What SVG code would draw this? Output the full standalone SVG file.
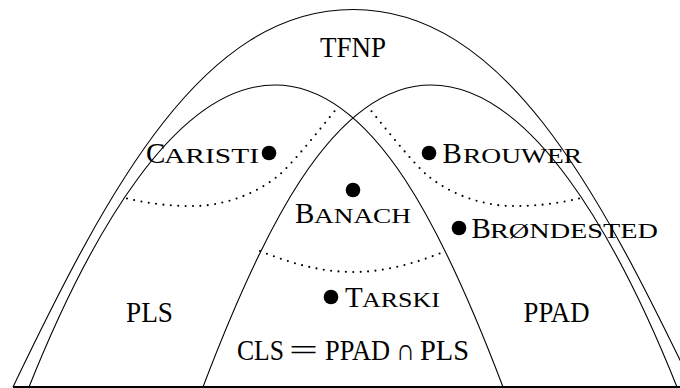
<svg xmlns="http://www.w3.org/2000/svg" width="680" height="388" viewBox="0 0 680 388">
  <style>
    .ln { fill: none; stroke: #000; stroke-width: 1.1; }
    .dt { fill: none; stroke: #000; stroke-width: 2.1; stroke-linecap: round; stroke-dasharray: 0 7.4; }
    .tt { font-family: "Liberation Serif", "DejaVu Serif", serif; font-size: 29px; fill: #000; }
    .op { font-size: 30px; }
    .sc { font-family: "Liberation Serif", "DejaVu Serif", serif; font-size: 29px; fill: #000; }
    .s { font-size: 20.5px; }
  </style>
  <rect width="680" height="388" fill="#fff"/>

  <!-- class TFNP: the outer arch -->
  <g id="tfnp">
    <path class="ln" d="M13,387 C109,187 203,9.5 353,9.5 C503,9.5 597,187 693,387"/>
    <text class="tt" x="353" y="57" text-anchor="middle" textLength="66" lengthAdjust="spacingAndGlyphs">TFNP</text>
  </g>

  <!-- class PLS: left inner arch -->
  <g id="pls">
    <path class="ln" d="M29,387 C89,237 175,85 275,85 C375,85 446,237 503,387"/>
    <text class="tt" x="149.5" y="321.5" text-anchor="middle" textLength="47" lengthAdjust="spacingAndGlyphs">PLS</text>
  </g>

  <!-- class PPAD: right inner arch, mirror of PLS about x=353 -->
  <g id="ppad">
    <path class="ln" d="M29,387 C89,237 175,85 275,85 C375,85 446,237 503,387" transform="translate(706,0) scale(-1,1)"/>
    <text class="tt" x="556.5" y="321.5" text-anchor="middle" textLength="66" lengthAdjust="spacingAndGlyphs">PPAD</text>
  </g>

  <!-- intersection CLS -->
  <g id="cls">
    <text class="tt" y="359.5"><tspan x="237" textLength="47" lengthAdjust="spacingAndGlyphs">CLS</tspan><tspan x="289" textLength="29" lengthAdjust="spacingAndGlyphs">=</tspan><tspan x="325" textLength="65" lengthAdjust="spacingAndGlyphs">PPAD</tspan><tspan class="op" x="396" textLength="19" lengthAdjust="spacingAndGlyphs">∩</tspan><tspan x="420" textLength="49" lengthAdjust="spacingAndGlyphs">PLS</tspan></text>
  </g>

  <!-- dotted sub-region boundaries -->
  <g id="boundaries">
    <path class="dt" d="M127,198.5 C148,203.5 172,206.5 196,206 C221,205.5 253,196 278,176 C290,166.4 320,129.4 337,108"/>
    <path class="dt" d="M127,198.5 C148,203.5 172,206.5 196,206 C221,205.5 253,196 278,176 C290,166.4 320,129.4 337,108" transform="translate(706,0) scale(-1,1)"/>
    <path class="dt" d="M260,251 C290,263 320,272 353,272 C386,272 416,263 446,251"/>
  </g>

  <!-- problems -->
  <g id="caristi">
    <circle cx="269" cy="153" r="7.3"/>
    <text class="sc" y="163"><tspan x="146">C</tspan><tspan class="s" x="164" textLength="95" lengthAdjust="spacingAndGlyphs">ARISTI</tspan></text>
  </g>
  <g id="brouwer">
    <circle cx="429" cy="153" r="7.3"/>
    <text class="sc" y="163"><tspan x="442.5">B</tspan><tspan class="s" x="463" textLength="119" lengthAdjust="spacingAndGlyphs">ROUWER</tspan></text>
  </g>
  <g id="banach">
    <circle cx="353" cy="190" r="7.3"/>
    <text class="sc" y="223"><tspan x="295">B</tspan><tspan class="s" x="314" textLength="97" lengthAdjust="spacingAndGlyphs">ANACH</tspan></text>
  </g>
  <g id="brondested">
    <circle cx="459" cy="228" r="7.3"/>
    <text class="sc" y="238"><tspan x="471.5">B</tspan><tspan class="s" x="490" textLength="168" lengthAdjust="spacingAndGlyphs">RØNDESTED</tspan></text>
  </g>
  <g id="tarski">
    <circle cx="331" cy="297" r="7.3"/>
    <text class="sc" y="306.5"><tspan x="345">T</tspan><tspan class="s" x="362" textLength="78" lengthAdjust="spacingAndGlyphs">ARSKI</tspan></text>
  </g>

  <!-- ground line -->
  <line x1="13" y1="387" x2="680" y2="387" stroke="#000" stroke-width="2"/>
</svg>
